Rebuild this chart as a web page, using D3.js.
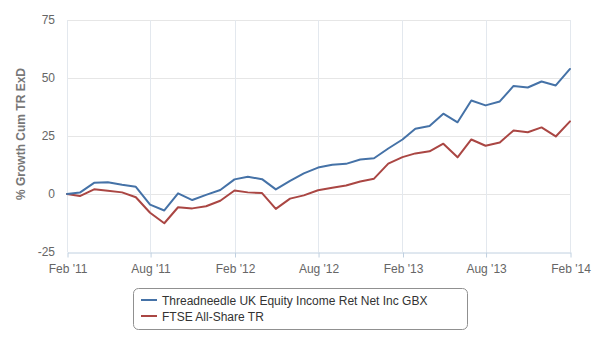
<!DOCTYPE html>
<html>
<head>
<meta charset="utf-8">
<script src="https://cdn.jsdelivr.net/npm/d3@7"></script>
<style>
  html, body { margin: 0; padding: 0; background: #fff; }
  svg { display: block; font-family: "Liberation Sans", Arial, sans-serif; }
</style>
</head>
<body>
<svg id="chart" width="600" height="350"></svg>
<script>
// ---- data ----
const months = [
  "2011-02","2011-03","2011-04","2011-05","2011-06","2011-07","2011-08","2011-09","2011-10","2011-11","2011-12","2012-01",
  "2012-02","2012-03","2012-04","2012-05","2012-06","2012-07","2012-08","2012-09","2012-10","2012-11","2012-12","2013-01",
  "2013-02","2013-03","2013-04","2013-05","2013-06","2013-07","2013-08","2013-09","2013-10","2013-11","2013-12","2014-01","2014-02"
];
const xTickMonths = ["2011-02", "2011-08", "2012-02", "2012-08", "2013-02", "2013-08", "2014-02"];
const seriesNames = ["Threadneedle UK Equity Income Ret Net Inc GBX", "FTSE All-Share TR"];
const fundValues = [
  0, 0.6, 4.8, 5.1, 4.0, 3.1, -4.6, -7.1, 0.3, -2.6, -0.4, 1.7,
  6.3, 7.4, 6.4, 2.0, 5.7, 8.9, 11.4, 12.6, 13.0, 14.9, 15.4, 19.6,
  23.5, 28.1, 29.3, 34.6, 30.9, 40.3, 38.2, 39.9, 46.6, 45.9, 48.5, 46.8, 53.9
];
const indexValues = [
  0, -0.9, 2.0, 1.4, 0.7, -1.4, -8.1, -12.6, -5.7, -6.2, -5.3, -2.9,
  1.5, 0.7, 0.4, -6.4, -2.0, -0.6, 1.6, 2.7, 3.7, 5.4, 6.6, 13.1,
  15.9, 17.5, 18.4, 21.7, 15.8, 23.5, 20.8, 22.2, 27.4, 26.6, 28.7, 24.8, 31.3
];
const yTicks = [-25, 0, 25, 50, 75];
const seriesColors = ["#4572A7", "#AA4643"];
const yTitle = "% Growth Cum TR ExD";

// ---- layout ----
const svg = d3.select("#chart");
const pLeft = 67, pRight = 570, pTop = 20, pBottom = 252;
const parse = d3.timeParse("%Y-%m");
const dates = months.map(parse);

const x = d3.scaleTime().domain([dates[0], dates[dates.length - 1]]).range([pLeft, pRight]);
const y = d3.scaleLinear().domain([-25, 75]).range([pBottom, pTop]);
const xTickVals = xTickMonths.map(parse);
const fmt = d3.timeFormat("%b '%y");

// horizontal grid
svg.append("g").selectAll("line").data(yTicks.filter(d => d !== -25)).join("line")
  .attr("x1", pLeft).attr("x2", pRight)
  .attr("y1", d => Math.round(y(d)) + 0.5).attr("y2", d => Math.round(y(d)) + 0.5)
  .attr("stroke", "#e6e6e6").attr("stroke-width", 1);

// vertical grid
svg.append("g").selectAll("line").data(xTickVals).join("line")
  .attr("x1", d => Math.round(x(d)) + 0.5).attr("x2", d => Math.round(x(d)) + 0.5)
  .attr("y1", pTop).attr("y2", pBottom)
  .attr("stroke", "#e3e8ee").attr("stroke-width", 1);

// x axis
const xAxis = d3.axisBottom(x).tickValues(xTickVals).tickFormat(fmt).tickSize(5).tickSizeOuter(0);
const gx = svg.append("g").attr("transform", `translate(0.5,${pBottom + 0.5})`).call(xAxis);
gx.select(".domain").attr("stroke", "#C0D0E0");
gx.selectAll(".tick line").attr("stroke", "#C0D0E0");
gx.selectAll(".tick text").attr("fill", "#666").attr("font-size", 12)
  .attr("font-family", "Liberation Sans, Arial, sans-serif").attr("dy", "1.05em");

// y axis labels
const yAxis = d3.axisLeft(y).tickValues(yTicks).tickFormat(d => String(d)).tickSize(0).tickPadding(12);
const gy = svg.append("g").attr("transform", `translate(${pLeft},0)`).call(yAxis);
gy.select(".domain").remove();
gy.selectAll(".tick text").attr("fill", "#666").attr("font-size", 12)
  .attr("font-family", "Liberation Sans, Arial, sans-serif");

// y title
svg.append("text")
  .attr("transform", `translate(25,${(pTop + pBottom) / 2 - 2}) rotate(-90)`)
  .attr("text-anchor", "middle")
  .attr("fill", "#777").attr("font-weight", "bold").attr("font-size", 12)
  .text(yTitle);

// lines (index first, fund on top)
const line = d3.line().x((d, i) => x(dates[i])).y(d => y(d));
[[indexValues, seriesColors[1]], [fundValues, seriesColors[0]]].forEach(([vals, col]) => {
  svg.append("path").datum(vals)
    .attr("fill", "none").attr("stroke", col)
    .attr("stroke-width", 2).attr("stroke-linejoin", "round").attr("stroke-linecap", "round")
    .attr("d", line);
});

// legend
const lg = svg.append("g");
lg.append("rect").attr("x", 133.5).attr("y", 288.5).attr("width", 334).attr("height", 41)
  .attr("rx", 5).attr("fill", "#fff").attr("stroke", "#909090").attr("stroke-width", 1);
seriesNames.forEach((name, i) => {
  const yy = 300 + i * 16;
  lg.append("line").attr("x1", 141).attr("x2", 157).attr("y1", yy).attr("y2", yy)
    .attr("stroke", seriesColors[i]).attr("stroke-width", 2);
  lg.append("text").attr("x", 162).attr("y", yy + 4.5)
    .attr("fill", "#333").attr("font-size", 12).text(name);
});
</script>
</body>
</html>
